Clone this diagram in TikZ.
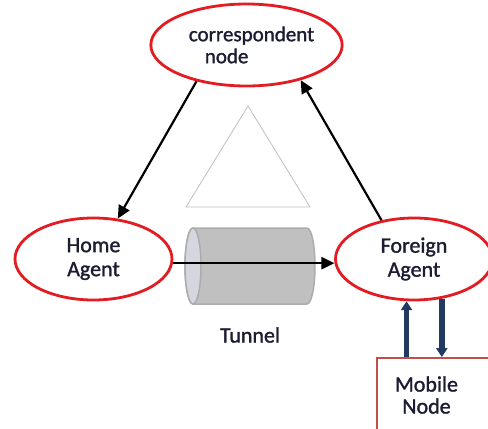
\documentclass[tikz,border=0pt]{standalone}
\usepackage{fontspec}
\setmainfont{Carlito}[FakeBold=1.4]
\usetikzlibrary{positioning, arrows.meta, shapes.geometric}
\definecolor{ringred}{RGB}{226,28,34}
\definecolor{inkblue}{RGB}{28,28,50}
\definecolor{navyarrow}{RGB}{34,58,98}
\definecolor{boxred}{RGB}{190,80,76}
\definecolor{tubegray}{RGB}{192,192,192}
\definecolor{tubeedge}{RGB}{172,172,172}
\definecolor{tubeend}{RGB}{212,215,221}

\begin{document}
\begin{tikzpicture}[x=1pt, y=-1pt,
    agent/.style={ellipse, draw=ringred, line width=2.8pt, inner sep=0pt,
        minimum width=157pt, minimum height=82pt, align=center, text=inkblue,
        font=\fontsize{22}{24}\selectfont},
    mobilebox/.style={rectangle, draw=boxred, line width=1.8pt, inner sep=0pt,
        minimum width=115pt, minimum height=74pt, align=center, text=inkblue,
        font=\fontsize{22}{22}\selectfont},
    tube/.style={draw=tubeedge, line width=1.5pt},
    link/.style={-{Triangle[length=13pt,width=12pt]}, line width=2.2pt, black},
    updown/.style={-{Triangle[length=9pt,width=11pt]}, line width=5.5pt, navyarrow},
    tri/.style={draw=gray!50, line width=0.8pt}
]
\useasboundingbox (0,0) rectangle (488,429);

% nodes
\node[agent, font=\fontsize{21}{22}\selectfont, align=left] (cn) at (246.5,45)
    {\hspace*{10pt}correspondent\\\hspace*{26pt}node}; % correspondent
\node[agent] (ha) at (93.5,259) {Home\\Agent}; % home
\node[agent] (fa) at (414,259) {Foreign\\Agent}; % foreign
\node[mobilebox] (mn) at (434.5,395) {Mobile\hspace*{16pt}\\Node\hspace*{16pt}}; % mobile

% tunnel
\draw[tube, fill=tubegray] (193,228) -- (307,228)
    arc[start angle=-90, end angle=90, x radius=8, y radius=38] -- (193,304)
    arc[start angle=90, end angle=270, x radius=8, y radius=38] -- cycle;
\draw[tube, fill=tubeend] (193,266) ellipse[x radius=8, y radius=38];
\node[text=inkblue, font=\fontsize{22}{22}\selectfont] (tunlbl) at (250,335) {Tunnel};

% triangle
\draw[tri] (248,106) -- (310,207) -- (186,207) -- cycle;

% arrows
\draw[link] (cn.216) -- (ha.59);
\draw[link] (fa.130) -- (cn.327);
\draw[link] (ha.-3) -- (fa.183);
\draw[updown] (mn.north -| fa.260) -- (fa.260);
\draw[updown] (fa.305) -- (fa.305 |- mn.north);
\end{tikzpicture}
\end{document}
